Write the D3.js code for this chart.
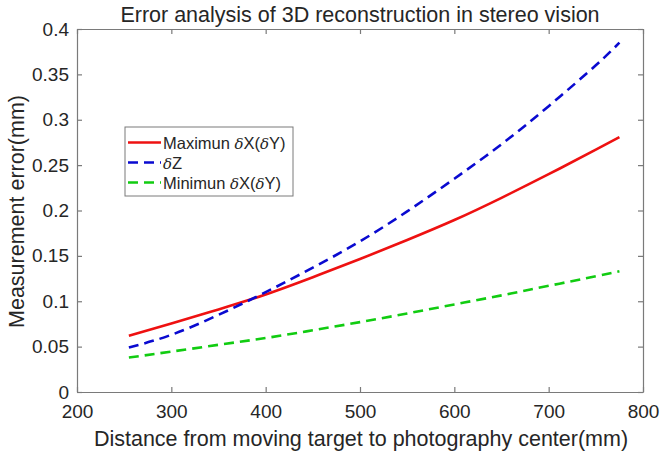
<!DOCTYPE html>
<html>
<head>
<meta charset="utf-8">
<script src="https://cdn.jsdelivr.net/npm/d3@7"></script>
<style>
  body { margin: 0; background: #fff; }
  text { font-family: "Liberation Sans", Arial, sans-serif; fill: #262626; }
</style>
</head>
<body>
<script>
var width = 662
var height = 458

// data
var distance = [255, 300, 350, 400, 450, 500, 550, 600, 650, 700, 750, 775];
var maxXY = [0.062, 0.0755, 0.091, 0.1075, 0.1265, 0.1465, 0.1675, 0.1895, 0.214, 0.24, 0.267, 0.2808];
var deltaZ = [0.049, 0.063, 0.085, 0.11, 0.137, 0.166, 0.199, 0.235, 0.273, 0.315, 0.36, 0.385];
var minXY = [0.038, 0.0445, 0.052, 0.0595, 0.068, 0.077, 0.0865, 0.0965, 0.1065, 0.117, 0.1275, 0.133];
var xTicks = [200, 300, 400, 500, 600, 700, 800];
var yTicks = [0, 0.05, 0.1, 0.15, 0.2, 0.25, 0.3, 0.35, 0.4];
// legend labels, split so the delta can be set in italic like TeX
var seriesNames = [
  ["Maximun ", ["\u03B4", true], "X(", ["\u03B4", true], "Y)"],
  [["\u03B4", true], "Z"],
  ["Minimun ", ["\u03B4", true], "X(", ["\u03B4", true], "Y)"]
];

var plotLeft = 77, plotRight = 643, plotTop = 29, plotBottom = 392;

var svg = d3.select("body").append("svg")
    .attr("width", width)
    .attr("height", height)

var x = d3.scaleLinear().domain([200, 800]).range([plotLeft, plotRight])
var y = d3.scaleLinear().domain([0, 0.4]).range([plotBottom, plotTop])

var axisColor = "#7a7a7a"

// axes with inward ticks, box on
svg.append("g")
    .attr("transform", "translate(0," + plotBottom + ")")
    .call(d3.axisBottom(x).tickValues(xTicks).tickSizeInner(-5).tickSizeOuter(0).tickPadding(13).tickFormat(d3.format("d")))
svg.append("g")
    .attr("transform", "translate(" + plotLeft + ",0)")
    .call(d3.axisLeft(y).tickValues(yTicks).tickSizeInner(-5).tickSizeOuter(0).tickPadding(8).tickFormat(function(d) { return String(+d.toFixed(2)) }))
svg.append("g")
    .attr("transform", "translate(0," + plotTop + ")")
    .call(d3.axisTop(x).tickValues(xTicks).tickSizeInner(-5).tickSizeOuter(0).tickFormat(""))
svg.append("g")
    .attr("transform", "translate(" + plotRight + ",0)")
    .call(d3.axisRight(y).tickValues(yTicks).tickSizeInner(-5).tickSizeOuter(0).tickFormat(""))

svg.selectAll(".domain").attr("stroke", axisColor).attr("stroke-width", 1.2)
svg.selectAll(".tick line").attr("stroke", axisColor).attr("stroke-width", 1.2)
svg.selectAll(".tick text")
    .style("font-family", "'Liberation Sans', Arial, sans-serif")
    .style("font-size", "19px")
    .attr("fill", "#262626")

// lines
var series = [
  { values: maxXY, color: "#ee1111", dash: null },
  { values: deltaZ, color: "#0a0ad0", dash: "10,6" },
  { values: minXY, color: "#11cc11", dash: "10,6" }
]

var line = d3.line()
    .x(function(d) { return x(d[0]) })
    .y(function(d) { return y(d[1]) })
    .curve(d3.curveNatural)

series.forEach(function(s) {
  svg.append("path")
      .datum(distance.map(function(d, i) { return [d, s.values[i]] }))
      .attr("d", line)
      .attr("fill", "none")
      .attr("stroke", s.color)
      .attr("stroke-width", 2.6)
      .attr("stroke-dasharray", s.dash)
})

// title and axis labels
svg.append("text")
    .attr("x", 360)
    .attr("y", 22)
    .attr("text-anchor", "middle")
    .style("font-size", "21.5px")
    .text("Error analysis of 3D reconstruction in stereo vision")

svg.append("text")
    .attr("x", 361)
    .attr("y", 446)
    .attr("text-anchor", "middle")
    .style("font-size", "21.5px")
    .text("Distance from moving target to photography center(mm)")

svg.append("text")
    .attr("transform", "translate(24," + ((plotTop + plotBottom) / 2 + 1) + ") rotate(-90)")
    .attr("text-anchor", "middle")
    .style("font-size", "21.5px")
    .text("Measurement error(mm)")

// legend
var legend = svg.append("g")
legend.append("rect")
    .attr("x", 125)
    .attr("y", 127)
    .attr("width", 168)
    .attr("height", 69)
    .attr("fill", "#fff")
    .attr("stroke", axisColor)
    .attr("stroke-width", 1)

series.forEach(function(s, i) {
  var ly = 142.5 + i * 20
  legend.append("line")
      .attr("x1", 128).attr("x2", 161)
      .attr("y1", ly).attr("y2", ly)
      .attr("stroke", s.color)
      .attr("stroke-width", 2.6)
      .attr("stroke-dasharray", s.dash)
  var t = legend.append("text")
      .attr("x", 163)
      .attr("y", ly + 6)
      .style("font-size", "16.5px")
  seriesNames[i].forEach(function(part) {
    if (Array.isArray(part)) {
      t.append("tspan").style("font-style", "italic").style("font-family", "'DejaVu Serif', serif").style("font-size", "15px").text(part[0])
    } else {
      t.append("tspan").text(part)
    }
  })
})
</script>
</body>
</html>
